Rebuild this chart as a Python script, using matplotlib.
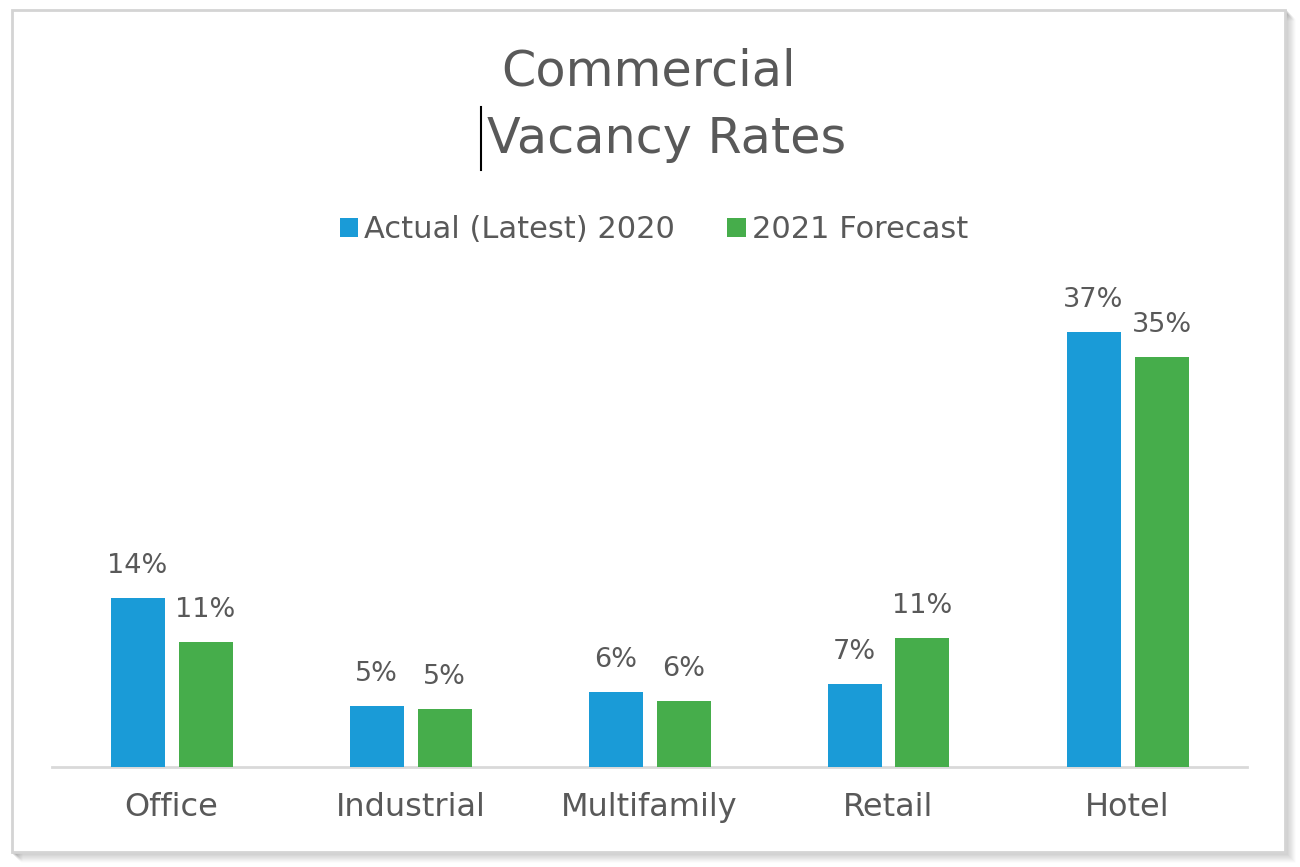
import matplotlib
matplotlib.use("Agg")
import matplotlib.pyplot as plt
from matplotlib.patches import Rectangle, Patch
from matplotlib.lines import Line2D
import numpy as np

categories = ["Office", "Industrial", "Multifamily", "Retail", "Hotel"]
actual_2020 = [14.4, 5.2, 6.4, 7.1, 37.0]
forecast_2021 = [10.6, 4.9, 5.6, 11.0, 34.9]
series_names = ["Actual (Latest) 2020", "2021 Forecast"]
title_line1 = "Commercial"
title_line2 = "Vacancy Rates"

BLUE = "#1A9BD7"
GREEN = "#46AD4B"
TEXT = "#595959"
FONT = ["DejaVu Sans"]

W, H = 1300, 867
fig = plt.figure(figsize=(W / 100, H / 100), dpi=100)
fig.patch.set_facecolor("white")

def fx(px):
    return px / W

def fy(py):
    return 1 - py / H

# frame shadow
for k in range(1, 11):
    fig.patches.append(Rectangle((fx(12 + k), fy(852 + k)), fx(1273), 842 / H,
                                 transform=fig.transFigure, facecolor="none",
                                 edgecolor="#000000", alpha=0.12 * (11 - k) / 10,
                                 linewidth=1.3, zorder=-3))
fig.patches.append(Rectangle((fx(12), fy(852)), fx(1273), 842 / H,
                             transform=fig.transFigure, facecolor="white",
                             edgecolor="#D4D4D4", linewidth=2, zorder=-2))

ax = fig.add_axes([fx(52), fy(767), fx(1195), (767 - 297) / H])
ax.set_facecolor("none")
x = np.arange(len(categories))
bw = 54 / 239
off = 34 / 239
b1 = ax.bar(x - off, actual_2020, bw, color=BLUE, label=series_names[0], zorder=3)
b2 = ax.bar(x + off, forecast_2021, bw, color=GREEN, label=series_names[1], zorder=3)

ax.set_xlim(-0.5, len(categories) - 0.5)
ax.set_ylim(0, 40)
for s in ["top", "right", "left"]:
    ax.spines[s].set_visible(False)
ax.spines["bottom"].set_color("#D9D9D9")
ax.spines["bottom"].set_linewidth(2)
ax.set_yticks([])
ax.set_xticks(x)
ax.set_xticklabels(categories, fontsize=23, color=TEXT, family=FONT)
ax.tick_params(axis="x", length=0, pad=18)

for bars, vals in ((b1, actual_2020), (b2, forecast_2021)):
    for rect, v in zip(bars, vals):
        ax.annotate(f"{round(v)}%", (rect.get_x() + rect.get_width() / 2, v),
                    xytext=(0, 18), textcoords="offset points", ha="center",
                    va="baseline", fontsize=19.5, color=TEXT, family=FONT)

fig.text(fx(649), fy(86), title_line1, ha="center", va="baseline",
         fontsize=35.5, color=TEXT, family=FONT)
fig.text(fx(667), fy(153), title_line2, ha="center", va="baseline",
         fontsize=35.5, color=TEXT, family=FONT)
fig.add_artist(Line2D([fx(481), fx(481)], [fy(107), fy(170)],
                      transform=fig.transFigure, color="black", linewidth=1.5))

handles = [Patch(facecolor=BLUE), Patch(facecolor=GREEN)]
fig.legend(handles, series_names, loc="center", bbox_to_anchor=(fx(654), fy(230)),
           ncol=2, frameon=False, handlelength=0.6, handleheight=0.6,
           handletextpad=0.2, columnspacing=1.7,
           prop={"family": FONT, "size": 22}, labelcolor=TEXT)

fig.savefig("out.png", dpi=100, facecolor="white")
